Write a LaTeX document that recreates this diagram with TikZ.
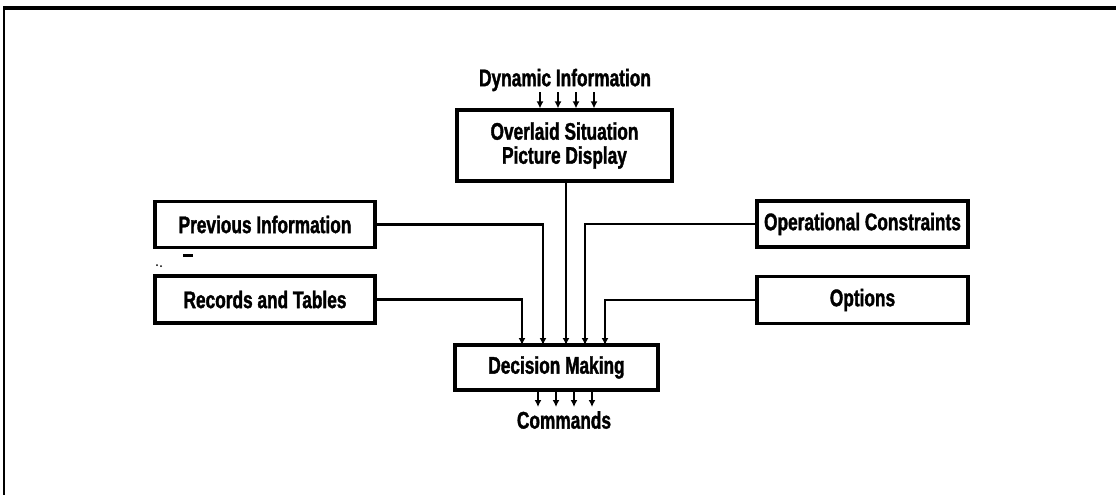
\documentclass[tikz,border=0pt]{standalone}
\usepackage{fontspec}
\newfontfamily\dfont{Liberation Sans}[FakeStretch=0.72,FakeBold=1.5]
\usetikzlibrary{arrows.meta}
\begin{document}
\begin{tikzpicture}[x=1pt,y=-1pt,
  lbl/.style={font=\dfont\bfseries\fontsize{24}{24}\selectfont, inner sep=0pt, align=center},
  blk/.style={lbl, draw, line width=3.2pt, minimum width=#1, minimum height=46pt},
  arr/.style={line width=2.6pt, -{Latex[length=7pt,width=7pt]}}]
\useasboundingbox (0,0) rectangle (1116,495);
% frame
\draw[line width=3.6pt] (3,8) coordinate (fa) -- (1116,8) coordinate (fb);
\draw[line width=2.4pt] (4,7) coordinate (fc) -- (4,495) coordinate (fd);

% blocks
\node[blk=215pt, minimum height=71pt] (ov) at (564.5,145.5) {Overlaid Situation\\Picture Display};
\node[blk=220pt] (prev) at (265,224.5) {Previous Information};
\node[blk=220pt, minimum height=47pt] (rec) at (265,299.5) {Records and Tables};
\node[blk=211pt] (opc) at (862.5,224) {Operational Constraints};
\node[blk=211pt, minimum height=47pt] (opt) at (862.5,300) {Options};
\node[blk=203pt, minimum height=45pt] (dm) at (556.5,367.5) {Decision Making};

% labels
\node[lbl] (dyn) at (565,80) {Dynamic Information};
\node[lbl] (cmd) at (564,420) {Commands};

% top input arrows
\foreach \i/\x in {1/540,2/558,3/576,4/594}{
  \coordinate (t\i) at (\x,92);
  \draw[arr] (t\i) -- (t\i |- ov.north);
}
% bottom output arrows
\foreach \i/\x in {1/538,2/556,3/574,4/592}{
  \coordinate (b\i) at (\x,407);
  \draw[arr] (b\i |- dm.south) -- (b\i);
}

% entry points on decision box
\coordinate (in1) at (522,345);
\coordinate (in2) at (543,345);
\coordinate (in3) at (566,345);
\coordinate (in4) at (585,345);
\coordinate (in5) at (605,345);

\draw[arr] (rec.east) -| (in1);
\draw[arr] (prev.east) -| (in2);
\draw[arr] (ov.south -| in3) -- (in3);
\draw[arr] (opc.west) -| (in4);
\draw[arr] (opt.west) -| (in5);

% scan specks
\fill (183,254) rectangle (193,257);
\fill (157,265) circle (1pt);
\fill (161,266) circle (1pt);
\end{tikzpicture}
\end{document}
